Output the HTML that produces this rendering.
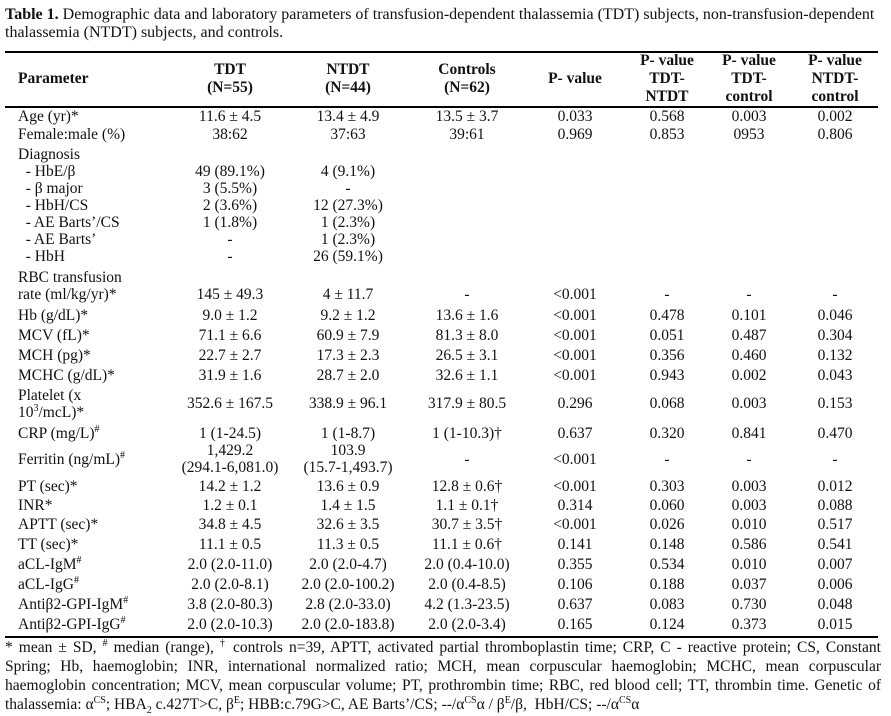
<!DOCTYPE html>
<html><head><meta charset="utf-8"><style>
body{margin:0;background:#fff;width:891px;height:711px;overflow:hidden;position:relative;font-family:"Liberation Serif",serif;font-size:15.5px;color:#111}
.r{position:absolute;left:0;width:891px;height:18px;line-height:18px}
.r span{position:absolute;top:0;white-space:nowrap}
.p{left:18px}
.a,.b,.c,.d,.e,.f,.g{text-align:center}
.a{left:165px;width:130px}.b{left:283px;width:130px}.c{left:402px;width:130px}
.d{left:525px;width:100px}.e{left:622px;width:90px}.f{left:704px;width:90px}.g{left:790px;width:90px}
.hr{position:absolute;left:5px;width:873px;height:0;border-top:2px solid #000}
.h{font-weight:bold}
.cap{position:absolute;left:5px;width:880px;line-height:18px;font-size:16px}
.fl{position:absolute;left:5px;width:876px;line-height:19px;font-size:15.5px;text-align:justify;text-align-last:justify;white-space:nowrap}
sup{font-size:10px;line-height:0}
</style></head><body>
<div class="cap" style="top:6px"><b>Table 1.</b> Demographic data and laboratory parameters of transfusion-dependent thalassemia (TDT) subjects, non-transfusion-dependent<br>thalassemia (NTDT) subjects, and controls.</div>
<div class="hr" style="top:51px"></div>
<div class="r h" style="top:52px"><span class="e">P- value</span><span class="f">P- value</span><span class="g">P- value</span></div>
<div class="r h" style="top:61px"><span class="a">TDT</span><span class="b">NTDT</span><span class="c">Controls</span></div>
<div class="r h" style="top:70px"><span class="p">Parameter</span><span class="d">P- value</span><span class="e">TDT-</span><span class="f">TDT-</span><span class="g">NTDT-</span></div>
<div class="r h" style="top:79px"><span class="a">(N=55)</span><span class="b">(N=44)</span><span class="c">(N=62)</span></div>
<div class="r h" style="top:88px"><span class="e">NTDT</span><span class="f">control</span><span class="g">control</span></div>
<div class="hr" style="top:106px"></div>
<div class="r" style="top:108px"><span class="p">Age (yr)*</span><span class="a">11.6 ± 4.5</span><span class="b">13.4 ± 4.9</span><span class="c">13.5 ± 3.7</span><span class="d">0.033</span><span class="e">0.568</span><span class="f">0.003</span><span class="g">0.002</span></div>
<div class="r" style="top:126px"><span class="p">Female:male (%)</span><span class="a">38:62</span><span class="b">37:63</span><span class="c">39:61</span><span class="d">0.969</span><span class="e">0.853</span><span class="f">0953</span><span class="g">0.806</span></div>
<div class="r" style="top:146px"><span class="p">Diagnosis</span></div>
<div class="r" style="top:163px"><span class="p">&nbsp; - HbE/β</span><span class="a">49 (89.1%)</span><span class="b">4 (9.1%)</span></div>
<div class="r" style="top:180px"><span class="p">&nbsp; - β major</span><span class="a">3 (5.5%)</span><span class="b">-</span></div>
<div class="r" style="top:197px"><span class="p">&nbsp; - HbH/CS</span><span class="a">2 (3.6%)</span><span class="b">12 (27.3%)</span></div>
<div class="r" style="top:214px"><span class="p">&nbsp; - AE Barts’/CS</span><span class="a">1 (1.8%)</span><span class="b">1 (2.3%)</span></div>
<div class="r" style="top:231px"><span class="p">&nbsp; - AE Barts’</span><span class="a">-</span><span class="b">1 (2.3%)</span></div>
<div class="r" style="top:248px"><span class="p">&nbsp; - HbH</span><span class="a">-</span><span class="b">26 (59.1%)</span></div>
<div class="r" style="top:269px"><span class="p">RBC transfusion</span></div>
<div class="r" style="top:286px"><span class="p">rate (ml/kg/yr)*</span><span class="a">145 ± 49.3</span><span class="b">4 ± 11.7</span><span class="c">-</span><span class="d">&lt;0.001</span><span class="e">-</span><span class="f">-</span><span class="g">-</span></div>
<div class="r" style="top:307px"><span class="p">Hb (g/dL)*</span><span class="a">9.0 ± 1.2</span><span class="b">9.2 ± 1.2</span><span class="c">13.6 ± 1.6</span><span class="d">&lt;0.001</span><span class="e">0.478</span><span class="f">0.101</span><span class="g">0.046</span></div>
<div class="r" style="top:327px"><span class="p">MCV (fL)*</span><span class="a">71.1 ± 6.6</span><span class="b">60.9 ± 7.9</span><span class="c">81.3 ± 8.0</span><span class="d">&lt;0.001</span><span class="e">0.051</span><span class="f">0.487</span><span class="g">0.304</span></div>
<div class="r" style="top:347px"><span class="p">MCH (pg)*</span><span class="a">22.7 ± 2.7</span><span class="b">17.3 ± 2.3</span><span class="c">26.5 ± 3.1</span><span class="d">&lt;0.001</span><span class="e">0.356</span><span class="f">0.460</span><span class="g">0.132</span></div>
<div class="r" style="top:367px"><span class="p">MCHC (g/dL)*</span><span class="a">31.9 ± 1.6</span><span class="b">28.7 ± 2.0</span><span class="c">32.6 ± 1.1</span><span class="d">&lt;0.001</span><span class="e">0.943</span><span class="f">0.002</span><span class="g">0.043</span></div>
<div class="r" style="top:387px"><span class="p">Platelet (x</span></div>
<div class="r" style="top:395px"><span class="a">352.6 ± 167.5</span><span class="b">338.9 ± 96.1</span><span class="c">317.9 ± 80.5</span><span class="d">0.296</span><span class="e">0.068</span><span class="f">0.003</span><span class="g">0.153</span></div>
<div class="r" style="top:404px"><span class="p">10<sup>3</sup>/mcL)*</span></div>
<div class="r" style="top:425px"><span class="p">CRP (mg/L)<sup>#</sup></span><span class="a">1 (1-24.5)</span><span class="b">1 (1-8.7)</span><span class="c">1 (1-10.3)†</span><span class="d">0.637</span><span class="e">0.320</span><span class="f">0.841</span><span class="g">0.470</span></div>
<div class="r" style="top:442px"><span class="a">1,429.2</span><span class="b">103.9</span></div>
<div class="r" style="top:451px"><span class="p">Ferritin (ng/mL)<sup>#</sup></span><span class="c">-</span><span class="d">&lt;0.001</span><span class="e">-</span><span class="f">-</span><span class="g">-</span></div>
<div class="r" style="top:459px"><span class="a">(294.1-6,081.0)</span><span class="b">(15.7-1,493.7)</span></div>
<div class="r" style="top:478px"><span class="p">PT (sec)*</span><span class="a">14.2 ± 1.2</span><span class="b">13.6 ± 0.9</span><span class="c">12.8 ± 0.6†</span><span class="d">&lt;0.001</span><span class="e">0.303</span><span class="f">0.003</span><span class="g">0.012</span></div>
<div class="r" style="top:497px"><span class="p">INR*</span><span class="a">1.2 ± 0.1</span><span class="b">1.4 ± 1.5</span><span class="c">1.1 ± 0.1†</span><span class="d">0.314</span><span class="e">0.060</span><span class="f">0.003</span><span class="g">0.088</span></div>
<div class="r" style="top:516px"><span class="p">APTT (sec)*</span><span class="a">34.8 ± 4.5</span><span class="b">32.6 ± 3.5</span><span class="c">30.7 ± 3.5†</span><span class="d">&lt;0.001</span><span class="e">0.026</span><span class="f">0.010</span><span class="g">0.517</span></div>
<div class="r" style="top:536px"><span class="p">TT (sec)*</span><span class="a">11.1 ± 0.5</span><span class="b">11.3 ± 0.5</span><span class="c">11.1 ± 0.6†</span><span class="d">0.141</span><span class="e">0.148</span><span class="f">0.586</span><span class="g">0.541</span></div>
<div class="r" style="top:556px"><span class="p">aCL-IgM<sup>#</sup></span><span class="a">2.0 (2.0-11.0)</span><span class="b">2.0 (2.0-4.7)</span><span class="c">2.0 (0.4-10.0)</span><span class="d">0.355</span><span class="e">0.534</span><span class="f">0.010</span><span class="g">0.007</span></div>
<div class="r" style="top:576px"><span class="p">aCL-IgG<sup>#</sup></span><span class="a">2.0 (2.0-8.1)</span><span class="b">2.0 (2.0-100.2)</span><span class="c">2.0 (0.4-8.5)</span><span class="d">0.106</span><span class="e">0.188</span><span class="f">0.037</span><span class="g">0.006</span></div>
<div class="r" style="top:596px"><span class="p">Antiβ2-GPI-IgM<sup>#</sup></span><span class="a">3.8 (2.0-80.3)</span><span class="b">2.8 (2.0-33.0)</span><span class="c">4.2 (1.3-23.5)</span><span class="d">0.637</span><span class="e">0.083</span><span class="f">0.730</span><span class="g">0.048</span></div>
<div class="r" style="top:616px"><span class="p">Antiβ2-GPI-IgG<sup>#</sup></span><span class="a">2.0 (2.0-10.3)</span><span class="b">2.0 (2.0-183.8)</span><span class="c">2.0 (2.0-3.4)</span><span class="d">0.165</span><span class="e">0.124</span><span class="f">0.373</span><span class="g">0.015</span></div>
<div class="hr" style="top:636px"></div>
<div class="fl" style="top:638px">* mean ± SD, <sup>#</sup> median (range), <sup>†</sup> controls n=39, APTT, activated partial thromboplastin time; CRP, C - reactive protein; CS, Constant</div>
<div class="fl" style="top:657px">Spring; Hb, haemoglobin; INR, international normalized ratio; MCH, mean corpuscular haemoglobin; MCHC, mean corpuscular</div>
<div class="fl" style="top:676px">haemoglobin concentration; MCV, mean corpuscular volume; PT, prothrombin time; RBC, red blood cell; TT, thrombin time. Genetic of</div>
<div class="fl" style="top:695px;text-align:left;text-align-last:left">thalassemia: α<sup>CS</sup>; HBA<sub style="font-size:10px;line-height:0">2</sub> c.427T&gt;C, β<sup>E</sup>; HBB:c.79G&gt;C, AE Barts’/CS; --/α<sup>CS</sup>α / β<sup>E</sup>/β, &nbsp;HbH/CS; --/α<sup>CS</sup>α</div>
</body></html>
